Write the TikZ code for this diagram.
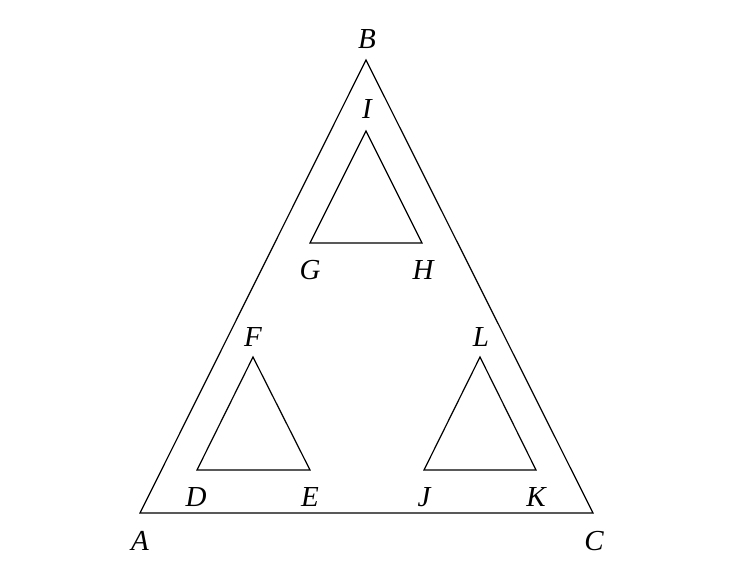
\documentclass[tikz,border=0pt]{standalone}
\usepackage{fontspec}
\setmainfont{Liberation Serif}
\begin{document}
\begin{tikzpicture}[x=1pt,y=-1pt,
  tri/.style={draw,line width=1.2pt,line join=miter},
  lab/.style={anchor=base,inner sep=0pt,font=\fontsize{29}{32}\selectfont\itshape}]
\useasboundingbox (0,0) rectangle (735,571);
% outer
\coordinate (A) at (140,513);
\coordinate (B) at (366,60);
\coordinate (C) at (593,513);
\draw[tri] (A) -- (B) -- (C) -- cycle;
% top inner
\coordinate (I) at (366,131);
\coordinate (G) at (310,243);
\coordinate (H) at (422,243);
\draw[tri] (G) -- (I) -- (H) -- cycle;
% left inner
\coordinate (F) at (253,357);
\coordinate (D) at (197,470);
\coordinate (E) at (310,470);
\draw[tri] (D) -- (F) -- (E) -- cycle;
% right inner
\coordinate (L) at (480,357);
\coordinate (J) at (424,470);
\coordinate (K) at (536,470);
\draw[tri] (J) -- (L) -- (K) -- cycle;
% labels
\node[lab] (lB) at (367,48) {B};
\node[lab] (lI) at (367,118) {I};
\node[lab] (lG) at (310,279) {G};
\node[lab] (lH) at (423,279) {H};
\node[lab] (lF) at (253,346) {F};
\node[lab] (lL) at (481,346) {L};
\node[lab] (lD) at (196,506) {D};
\node[lab] (lE) at (310,506) {E};
\node[lab] (lJ) at (424,506) {J};
\node[lab] (lK) at (536,506) {K};
\node[lab] (lA) at (140,550) {A};
\node[lab] (lC) at (594,550) {C};
\end{tikzpicture}
\end{document}
